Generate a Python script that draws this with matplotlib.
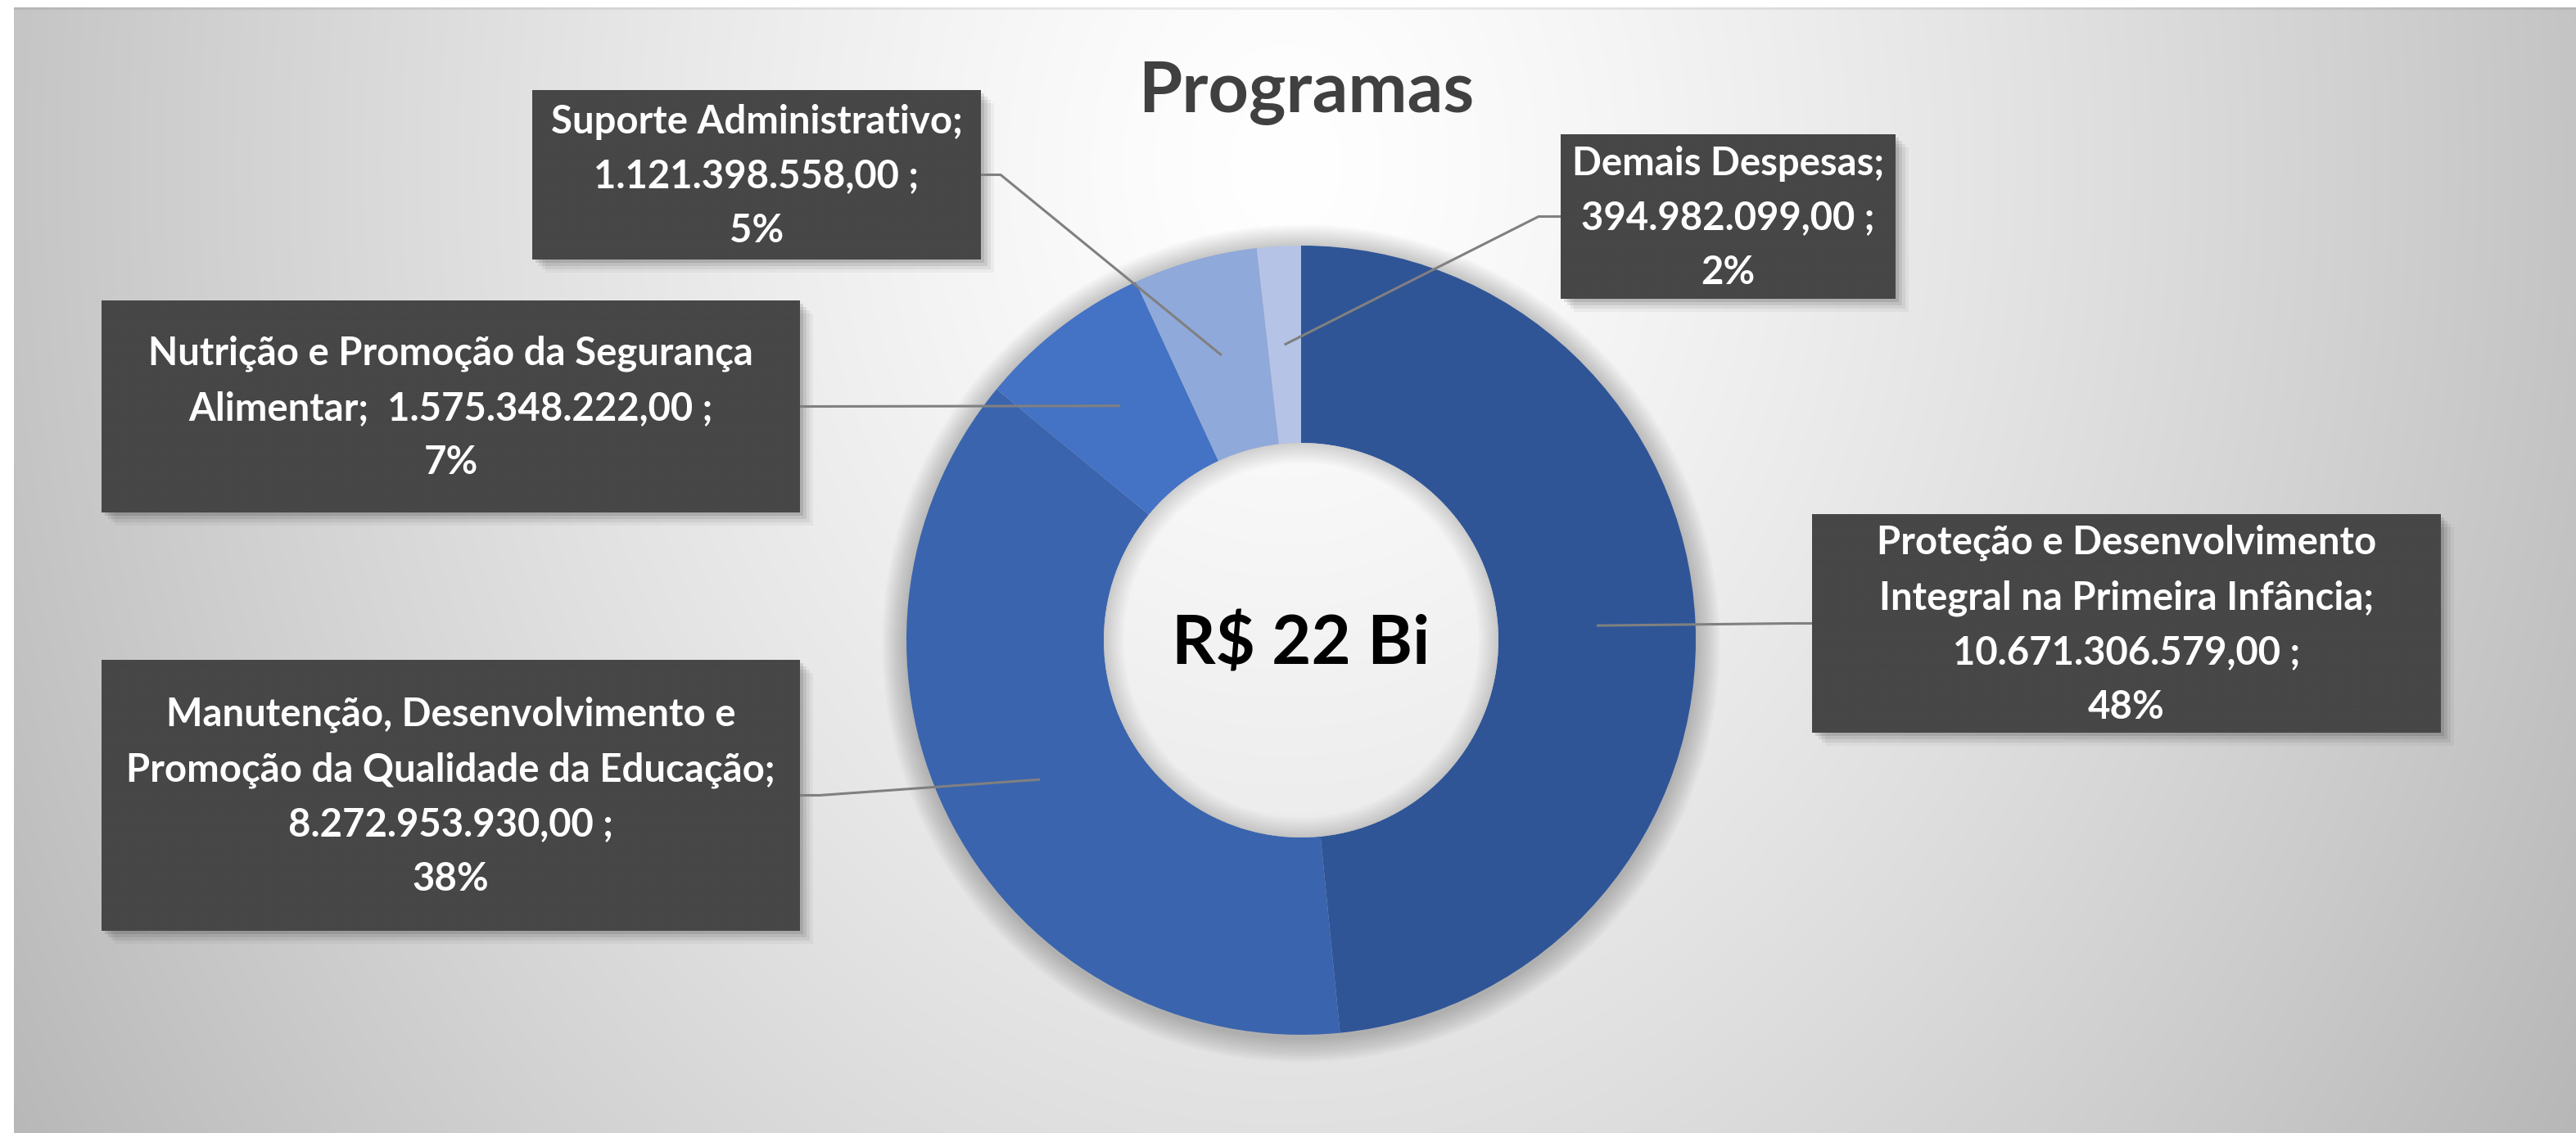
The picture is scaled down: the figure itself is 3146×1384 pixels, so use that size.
import numpy as np
import matplotlib
matplotlib.use("Agg")
import matplotlib.pyplot as plt
from matplotlib.patches import Rectangle, Circle, Wedge

# ---------------- data ----------------
categories = [
    "Proteção e Desenvolvimento\nIntegral na Primeira Infância",
    "Manutenção, Desenvolvimento e\nPromoção da Qualidade da Educação",
    "Nutrição e Promoção da Segurança\nAlimentar",
    "Suporte Administrativo",
    "Demais Despesas",
]
values = [10671306579.00, 8272953930.00, 1575348222.00, 1121398558.00, 394982099.00]
name_value_sep = ["\n", "\n", "  ", "\n", "\n"]
colors = ["#2F5597", "#3A64AD", "#4472C4", "#8FA9DA", "#B4C3E6"]
title = "Programas"
center_prefix = "R$"
center_unit = "Bi"

# ---------------- layout (pixels, top-down) ----------------
W, H = 3146, 1384
CX, CY = 1589, 782
R_OUT = 482
R_IN = 241
# label boxes: x0, y0, x1, y1 (top-down pixels), side where the leader attaches
boxes = [
    (2213, 628, 2981, 895, "left"),
    (124, 806, 977, 1137, "right"),
    (124, 367, 977, 626, "right"),
    (650, 110, 1198, 317, "right"),
    (1906, 164, 2315, 365, "left"),
]
FONT = ["Lato", "DejaVu Sans"]


def Y(y):
    return H - y


def br(v):
    s = f"{v:,.2f}"
    return s.replace(",", "X").replace(".", ",").replace("X", ".")


fig = plt.figure(figsize=(W / 100, H / 100), dpi=100)
ax = fig.add_axes([0, 0, 1, 1])

# ---------------- background gradient ----------------
yy, xx = np.mgrid[0:H, 0:W]
d = np.sqrt(((xx - 1570) / 1600.0) ** 2 + ((yy - 200) / 2000.0) ** 2)
val = 255 - 60 * np.clip(d, 0, 1.3) ** 1.3
val = np.clip(val, 0, 255) / 255.0
val[:9, :] = 1.0
val[:, :17] = 1.0
val[9:12, 17:] *= 0.93
bg = np.dstack([val, val, val])
ax.imshow(bg, extent=(0, W, 0, H), origin="upper", zorder=0, interpolation="bilinear", aspect="auto")

# ---------------- donut shadow ----------------
for k in range(12):
    ax.add_patch(Circle((CX, Y(CY) - 4), R_OUT + 2 + k * 2.5, facecolor="#000000",
                        alpha=0.018, linewidth=0, zorder=1))

# ---------------- donut ----------------
wedges, _ = ax.pie(values, colors=colors, startangle=90, counterclock=False,
                   radius=R_OUT, center=(CX, Y(CY)),
                   wedgeprops=dict(width=R_OUT - R_IN, linewidth=0))
for w in wedges:
    w.set_zorder(2)

# hole: refill with background and a soft inner shadow
hole = Circle((CX, Y(CY)), R_IN, transform=ax.transData)
im2 = ax.imshow(bg, extent=(0, W, 0, H), origin="upper", zorder=2.5, interpolation="bilinear", aspect="auto")
im2.set_clip_path(hole)
for k in range(10):
    ax.add_patch(Wedge((CX, Y(CY)), R_IN, 0, 360, width=2 + k * 2.5, facecolor="#000000",
                       alpha=0.015, linewidth=0, zorder=2.6))

# ---------------- texts ----------------
total = sum(values)
ax.text(1595, Y(137), title, ha="center", va="baseline", fontsize=62,
        fontweight="bold", color="#404040", family=FONT, zorder=5)
ax.text(CX, Y(CY + 30), f"{center_prefix} {total / 1e9:.0f} {center_unit}", ha="center",
        va="baseline", fontsize=60, fontweight="bold", color="#000000", family=FONT, zorder=5)

# ---------------- labels ----------------
for w, name, sep, v, (x0, y0, x1, y1, side) in zip(wedges, categories, name_value_sep, values, boxes):
    pct = v / total * 100
    label = f"{name};{sep}{br(v)} ;\n{pct:.0f}%"
    # shadow
    for k, a in enumerate([0.10, 0.08, 0.06, 0.04]):
        off = 4 + k * 4
        ax.add_patch(Rectangle((x0 + off, Y(y1) - off), x1 - x0, y1 - y0, facecolor="#000000",
                               alpha=a, linewidth=0, zorder=3))
    ax.add_patch(Rectangle((x0, Y(y1)), x1 - x0, y1 - y0, facecolor="#3C3C3C",
                           linewidth=0, zorder=4))
    ax.add_patch(Rectangle((x0, Y(y1)), x1 - x0, y1 - y0, facecolor="none",
                           edgecolor="#545454", hatch="........", linewidth=0, zorder=4.1))
    ax.text((x0 + x1) / 2, Y((y0 + y1) / 2 + 2), label, ha="center", va="center",
            fontsize=34, fontweight="bold", color="white", family=FONT,
            linespacing=1.63, zorder=5, multialignment="center")
    # leader line: anchor at mid angle, mid radius
    th = np.deg2rad((w.theta1 + w.theta2) / 2)
    rm = (R_OUT + R_IN) / 2
    axp = CX + rm * np.cos(th)
    ayp = Y(CY) + rm * np.sin(th)
    by = Y((y0 + y1) / 2)
    if side == "left":
        bx, kx = x0, x0 - 27
    else:
        bx, kx = x1, x1 + 24
    ax.plot([axp, kx, bx], [ayp, by, by], color="#808080", lw=2.2, zorder=4.5,
            solid_capstyle="butt")

ax.set_xlim(0, W)
ax.set_ylim(0, H)
ax.set_aspect("auto")
ax.axis("off")
fig.savefig("out.png", dpi=100)
